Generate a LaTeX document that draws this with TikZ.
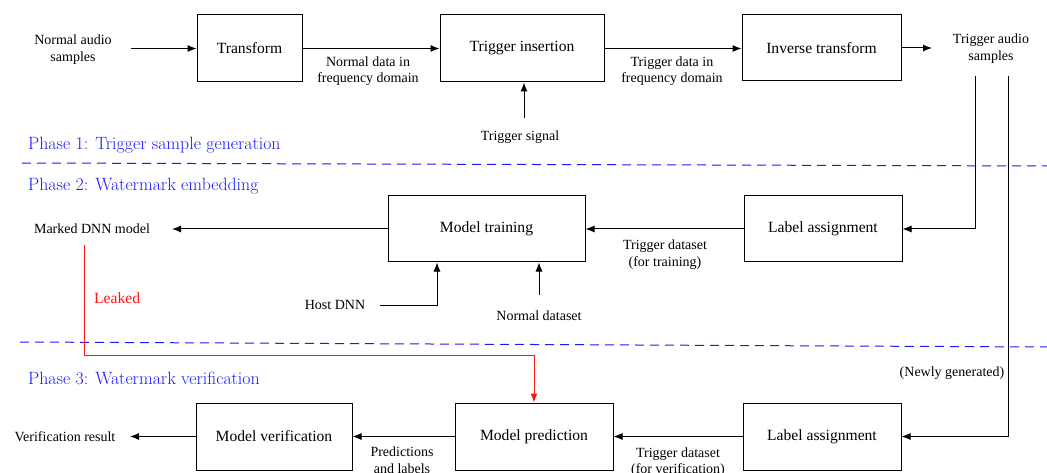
\documentclass[tikz,border=0pt]{standalone}
\usepackage{fontspec}
\setmainfont{Liberation Serif}
\newfontfamily\phasefont{Latin Modern Roman}
\usetikzlibrary{arrows.meta}
\definecolor{phaseblue}{RGB}{25,25,255}
\definecolor{leakred}{RGB}{255,20,20}
\begin{document}
\begin{tikzpicture}[x=1pt,y=-1pt,
 box/.style={draw,line width=1pt,inner sep=0pt,font=\fontsize{15.6}{18}\selectfont},
 lbl/.style={font=\fontsize{14}{16.5}\selectfont,align=center,inner sep=0pt},
 arr/.style={line width=1pt,-{Latex[length=9pt,width=7pt]}},
 phase/.style={font=\phasefont\fontsize{17.8}{20}\selectfont,text=phaseblue,anchor=west,inner sep=0pt},
 sep/.style={phaseblue,line width=1pt,dash pattern=on 9pt off 6pt}]
\useasboundingbox (0,0) rectangle (1047,473);
% separators
\coordinate (s1a) at (22,163); \coordinate (s1b) at (1047,166);
\coordinate (s2a) at (20,342); \coordinate (s2b) at (1047,347);
\draw[sep] (s1a) -- (s1b);
\draw[sep] (s2a) -- (s2b);
\node[phase] (p1) at (28,145) {Phase 1: Trigger sample generation};
\node[phase] (p2) at (28,186) {Phase 2: Watermark embedding};
\node[phase] (p3) at (28,378) {Phase 3: Watermark verification};
% row 1
\node[box,minimum width=105,minimum height=67] (tf) at (249.5,48.5) {Transform};
\node[box,minimum width=164,minimum height=67] (ti) at (522,48.5) {Trigger insertion};
\node[box,minimum width=159,minimum height=66] (it) at (821.5,48) {Inverse transform};
\node[lbl] (nas) at (73,49.5) {Normal audio\\samples};
\coordinate (nasout) at (131,48.5);
\draw[arr] (nasout) -- (tf.west);
\draw[arr] (tf.east) -- (ti.west);
\node[lbl] (ndf) at (368,71) {Normal data in\\frequency domain};
\draw[arr] (ti.east) -- (ti.east -| it.west);
\node[lbl] (tdf) at (672,71) {Trigger data in\\frequency domain};
\node[lbl] (ts) at (520,137) {Trigger signal};
\coordinate (tsc) at (524,118);
\draw[arr] (tsc) -- (tsc |- ti.south);
\node[lbl] (tas) at (991,48.5) {Trigger audio\\samples};
\coordinate (tasin) at (932,48);
\draw[arr] (it.east) -- (tasin);
% row 2
\node[box,minimum width=197,minimum height=66] (mt) at (486.5,229) {Model training};
\node[box,minimum width=158,minimum height=66] (la1) at (823,229) {Label assignment};
\draw[arr] (la1.west) -- (mt.east);
\node[lbl] (tdt) at (665,254.5) {Trigger dataset\\(for training)};
\node[lbl] (mdm) at (92,229) {Marked DNN model};
\coordinate (mdmin) at (172,229);
\draw[arr] (mt.west) -- (mdmin);
\node[lbl] (host) at (335,305) {Host DNN};
\coordinate (hostout) at (380,305);
\draw[arr] (hostout) -| ([xshift=-49.5pt]mt.south);
\node[lbl] (nd) at (539,316) {Normal dataset};
\coordinate (ndc) at (539,295);
\draw[arr] (ndc) -- (ndc |- mt.south);
\coordinate (v1) at (975,76);
\draw[arr] (v1) |- (la1.east);
% row 3
\node[box,minimum width=156,minimum height=67] (mv) at (274,436.5) {Model verification};
\node[box,minimum width=158,minimum height=67] (mp) at (534,436.5) {Model prediction};
\node[box,minimum width=158,minimum height=67] (la2) at (822,436.5) {Label assignment};
\node[lbl] (vr) at (65,437) {Verification result};
\coordinate (vrin) at (130,436.5);
\draw[arr] (mv.west) -- (vrin);
\draw[arr] (mp.west) -- (mv.east);
\draw[arr] (la2.west) -- (mp.east);
\node[lbl] (pal) at (402,460) {Predictions\\and labels};
\node[lbl] (tdv) at (678,462) {Trigger dataset\\(for verification)};
\node[lbl] (ng) at (952,373) {(Newly generated)};
\coordinate (v2) at (1008,76);
\draw[arr] (v2) |- (la2.east);
% leak
\coordinate (leak) at (84,245);
\coordinate (leakturn) at (84,355);
\draw[arr,leakred] (leak) -- (leakturn) -| (mp.north);
\node[lbl,font=\fontsize{15.6}{18}\selectfont,text=leakred,anchor=west] (lk) at (94,298) {Leaked};
\end{tikzpicture}
\end{document}
